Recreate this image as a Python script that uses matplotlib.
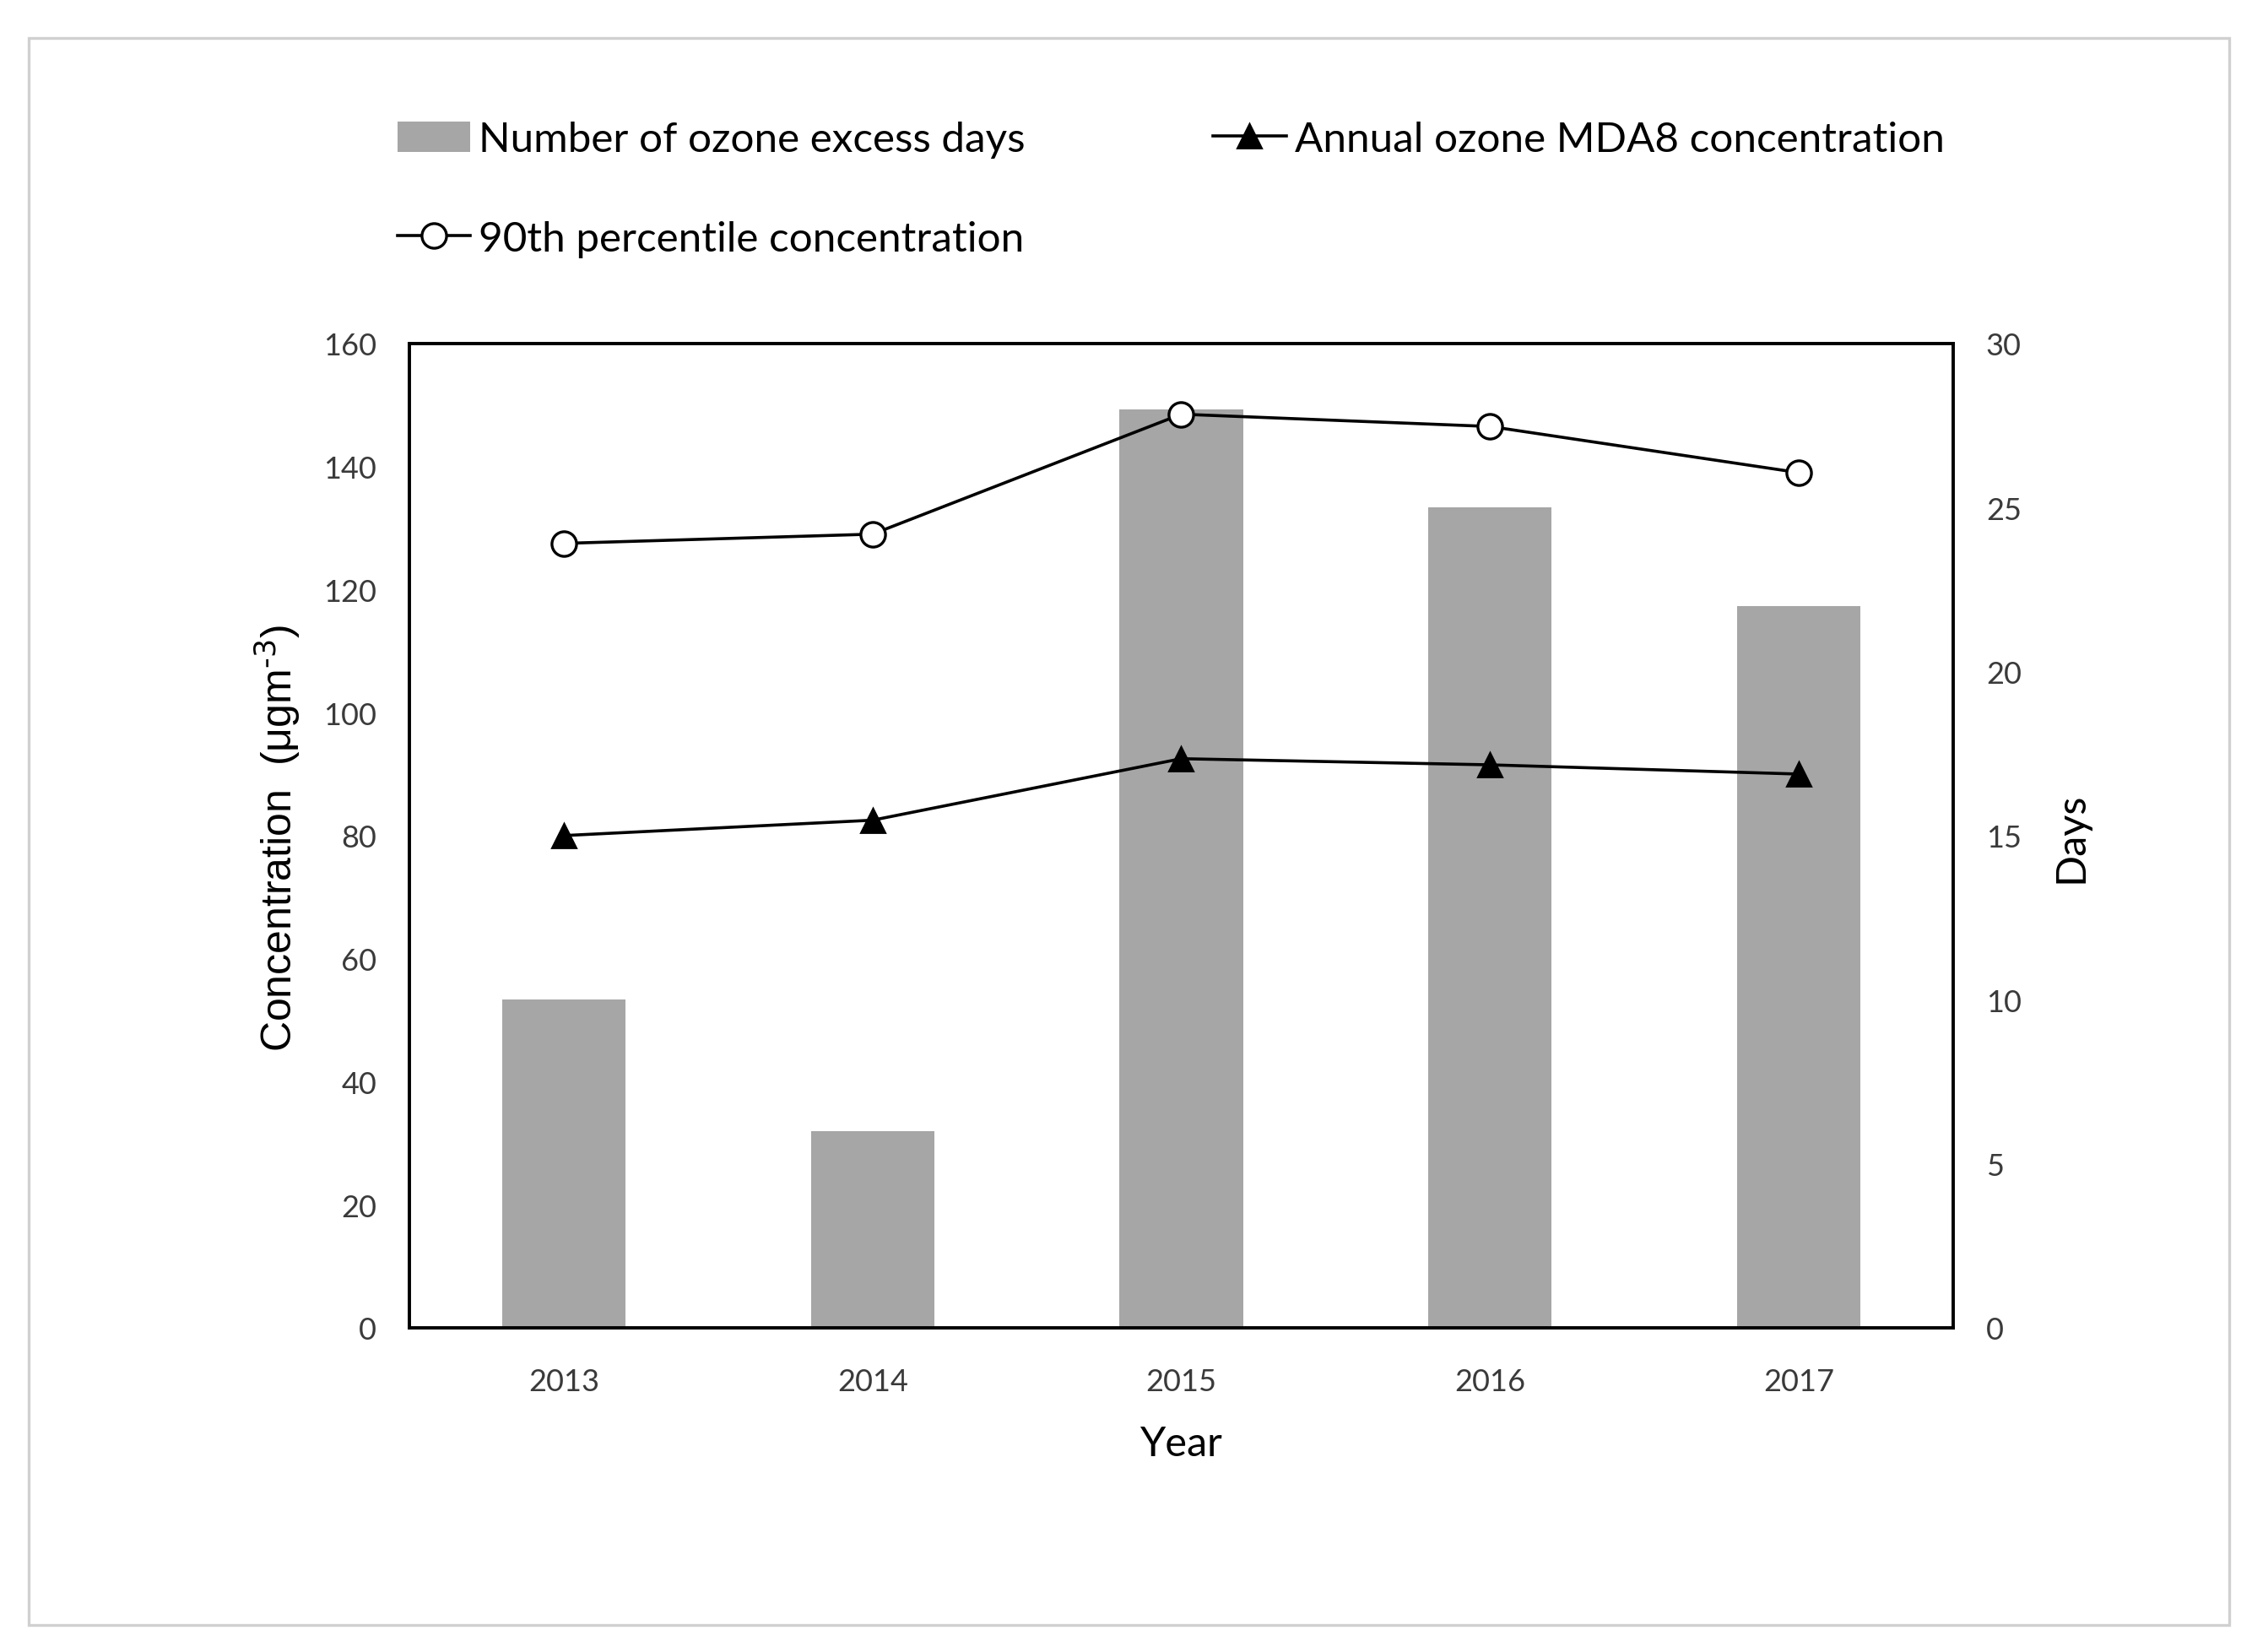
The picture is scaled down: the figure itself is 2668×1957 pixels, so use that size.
import matplotlib
matplotlib.use("Agg")
import matplotlib.pyplot as plt
from matplotlib.patches import Rectangle
from matplotlib.lines import Line2D
from matplotlib.patches import Patch

years = ["2013", "2014", "2015", "2016", "2017"]
excess_days = [10, 6, 28, 25, 22]
mda8 = [80.0, 82.5, 92.5, 91.5, 90.0]
p90 = [127.5, 129.0, 148.5, 146.5, 139.0]
left_ticks = [0, 20, 40, 60, 80, 100, 120, 140, 160]
right_ticks = [0, 5, 10, 15, 20, 25, 30]

plt.rcParams['font.family'] = ['Lato', 'DejaVu Sans']

fig = plt.figure(figsize=(13.34, 9.79), dpi=200)
ax1 = fig.add_axes([0.1818, 0.1962, 0.8673 - 0.1818, 0.7917 - 0.1962])
ax2 = ax1.twinx()

x = list(range(len(years)))
ax2.bar(x, excess_days, width=0.4, color='#a6a6a6', zorder=1)
ax1.plot(x, mda8, color='black', lw=1.3, marker='^', markersize=10,
         markerfacecolor='black', markeredgecolor='black', zorder=3)
ax1.plot(x, p90, color='black', lw=1.3, marker='o', markersize=10.5,
         markerfacecolor='white', markeredgecolor='black', markeredgewidth=1.2, zorder=3)

ax1.set_zorder(ax2.get_zorder() + 1)
ax1.patch.set_visible(False)

ax1.set_xlim(-0.5, 4.5)
ax1.set_ylim(0, 160)
ax2.set_ylim(0, 30)
ax1.set_xticks(x)
ax1.set_xticklabels(years)
ax1.set_yticks(left_ticks)
ax2.set_yticks(right_ticks)

tick_color = '#3a3a3a'
ax1.tick_params(axis='both', length=0, labelsize=13, colors=tick_color)
ax1.tick_params(axis='y', pad=14)
ax1.tick_params(axis='x', pad=17)
ax2.tick_params(axis='y', length=0, labelsize=13, colors=tick_color, pad=14)

for a in (ax1, ax2):
    for s in a.spines.values():
        s.set_linewidth(1.3)
        s.set_color('black')

fig.text(0.1231, 0.493, r"Concentration  (μgm$^{\text{-3}}$)", rotation=90, ha='center', va='center',
         fontsize=18, family=['Liberation Sans', 'DejaVu Sans'])
fig.text(0.9196, 0.493, "Days", rotation=90, ha='center', va='center', fontsize=17.5)
fig.text(0.5242, 0.1260, "Year", ha='center', va='center', fontsize=17.5)

handles = [
    Patch(facecolor='#a6a6a6', edgecolor='none'),
    Line2D([], [], color='black', lw=1.3, marker='o', markersize=10.5,
           markerfacecolor='white', markeredgecolor='black', markeredgewidth=1.2),
    Line2D([], [], color='black', lw=1.3, marker='^', markersize=10,
           markerfacecolor='black', markeredgecolor='black'),
]
labels = ["Number of ozone excess days", "90th percentile concentration",
          "Annual ozone MDA8 concentration"]
fig.legend(handles, labels, loc='upper left', bbox_to_anchor=(0.169, 0.9366), ncol=2,
           frameon=False, fontsize=17.8, handlelength=1.75, handleheight=0.75,
           handletextpad=0.2, columnspacing=4.5, labelspacing=1.5, borderaxespad=0)

fig.patches.append(Rectangle((0.0128, 0.0165), 0.9898 - 0.0128, 0.9766 - 0.0165,
                             transform=fig.transFigure, fill=False,
                             edgecolor='#d0d0d0', lw=1.2))

fig.savefig("out.png", dpi=200)
